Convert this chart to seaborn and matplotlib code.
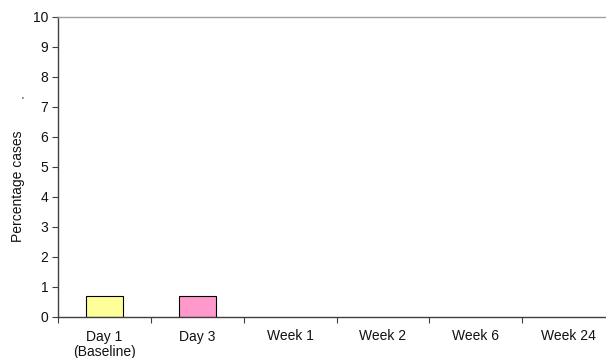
import matplotlib
matplotlib.use("Agg")
import matplotlib.pyplot as plt
import seaborn as sns
import pandas as pd
import numpy as np

categories = ["Day 1\n(Baseline)", "Day 3", "Week 1", "Week 2", "Week 6", "Week 24"]
values = [0.7, 0.7, 0, 0, 0, 0]
colors = ["#FFFF99", "#FF99CC", "#FFFFFF", "#FFFFFF", "#FFFFFF", "#FFFFFF"]
yticks = list(range(0, 11))

sns.set_style("white")
plt.rcParams["font.family"] = ["Liberation Sans", "DejaVu Sans"]

fig = plt.figure(figsize=(6.06, 3.58), dpi=100)
W, H = 606, 358
ax = fig.add_axes([58 / W, (H - 317) / H, 557 / W, 300 / H])

df = pd.DataFrame({"cat": categories, "val": values})
sns.barplot(data=df, x="cat", y="val", hue="cat", palette=colors, legend=False,
            width=0.4, edgecolor="black", linewidth=0.8, saturation=1, ax=ax)
for p, v in zip(ax.patches, values):
    if v == 0:
        p.set_visible(False)

ax.set_ylim(0, 10)
ax.set_xlim(-0.5, len(categories) - 0.5)
ax.set_yticks(yticks)
ax.set_xlabel("")
ax.set_ylabel("")
ax.tick_params(axis="y", which="major", direction="out", length=4, width=0.8,
               color="#404040", labelsize=10, left=True, pad=3, labelcolor="#111111")
ax.tick_params(axis="x", which="major", length=0, labelsize=10, pad=9, labelcolor="#111111")
for lab in ax.get_xticklabels():
    lab.set_linespacing(1.1)
ax.set_xticks(np.arange(len(categories) + 1) - 0.5, minor=True)
ax.tick_params(axis="x", which="minor", direction="out", length=4, width=0.8,
               color="#404040", bottom=True)

for s in ["left", "bottom"]:
    ax.spines[s].set_color("#404040")
    ax.spines[s].set_linewidth(1.0)
ax.spines["top"].set_color("#A0A0A0")
ax.spines["top"].set_linewidth(1.0)
ax.spines["right"].set_visible(False)
ax.grid(False)

fig.text(18 / W, 1 - 186 / H, "Percentage cases", fontsize=10, rotation=90,
         ha="center", va="center", color="#111111")
fig.text(22.5 / W, 1 - 99 / H, ".", fontsize=10, color="#555555", ha="center", va="baseline")

fig.savefig("out.png", dpi=100)
